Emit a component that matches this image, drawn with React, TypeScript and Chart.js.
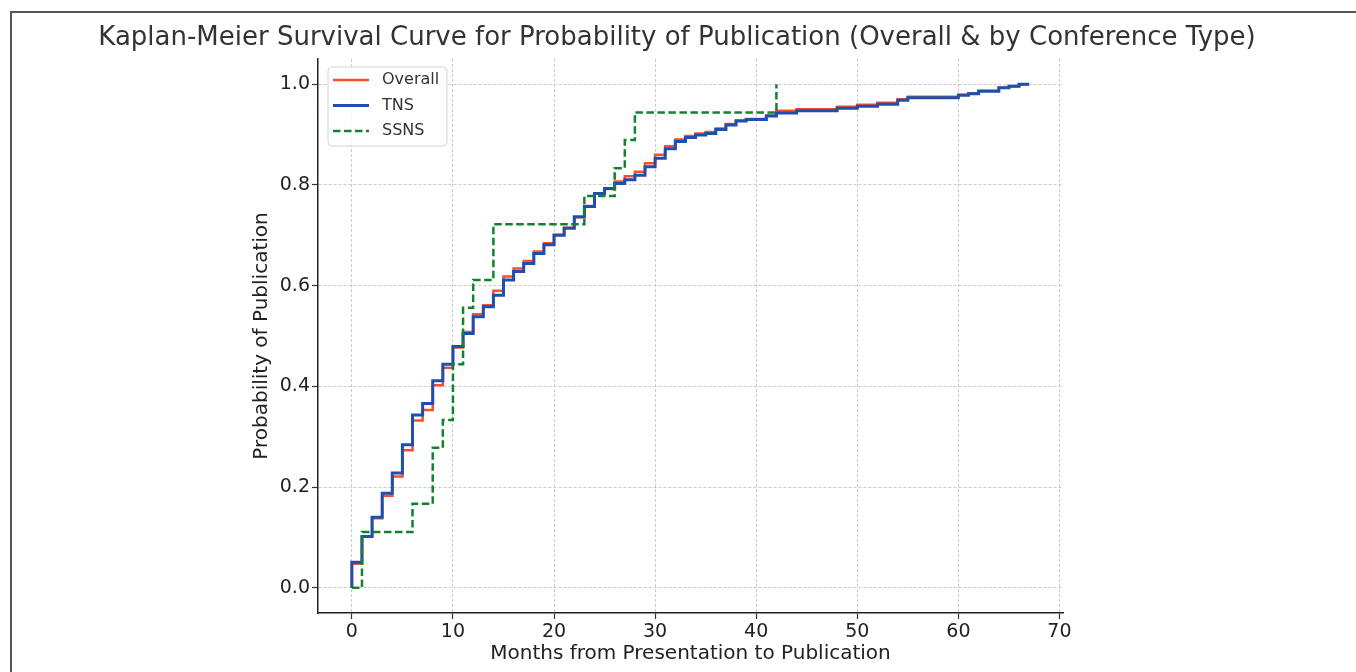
import React, { useEffect, useRef } from "react";
import { Chart, registerables } from "chart.js";

Chart.register(...registerables);

const chartTitle =
  "Kaplan-Meier Survival Curve for Probability of Publication (Overall & by Conference Type)";
const xAxisLabel = "Months from Presentation to Publication";
const yAxisLabel = "Probability of Publication";
const seriesLabels = ["Overall", "TNS", "SSNS"];

// Event times shared by Overall and TNS curves
const months = [
  0, 0, 1, 2, 3, 4, 5, 6, 7, 8, 9, 10, 11, 12, 13, 14, 15, 16, 17, 18, 19, 20,
  21, 22, 23, 24, 25, 26, 27, 28, 29, 30, 31, 32, 33, 34, 35, 36, 37, 38, 39,
  41, 42, 44, 48, 50, 52, 54, 55, 60, 61, 62, 64, 65, 66, 67,
];

const overallProb = [
  0, 0.048, 0.102, 0.138, 0.183, 0.221, 0.273, 0.332, 0.353, 0.402, 0.437,
  0.477, 0.508, 0.543, 0.561, 0.59, 0.618, 0.634, 0.649, 0.668, 0.684, 0.701,
  0.715, 0.736, 0.758, 0.783, 0.792, 0.807, 0.817, 0.826, 0.843, 0.86, 0.877,
  0.89, 0.897, 0.902, 0.905, 0.912, 0.921, 0.928, 0.931, 0.938, 0.947, 0.95,
  0.955, 0.959, 0.963, 0.97, 0.975, 0.979, 0.982, 0.987, 0.993, 0.996, 1.0, 1.0,
];

const tnsProb = [
  0, 0.051, 0.102, 0.14, 0.188, 0.228, 0.284, 0.343, 0.366, 0.411, 0.444,
  0.479, 0.505, 0.538, 0.558, 0.581, 0.611, 0.628, 0.644, 0.664, 0.681, 0.7,
  0.714, 0.737, 0.757, 0.783, 0.793, 0.803, 0.81, 0.819, 0.836, 0.853, 0.872,
  0.886, 0.894, 0.899, 0.902, 0.91, 0.919, 0.927, 0.93, 0.937, 0.943, 0.947,
  0.952, 0.956, 0.96, 0.968, 0.973, 0.978, 0.981, 0.986, 0.993, 0.996, 1.0, 1.0,
];

const ssnsMonths = [0, 1, 6, 8, 9, 10, 11, 12, 14, 23, 26, 27, 28, 42];
const ssnsProb = [
  0, 0.111, 0.167, 0.278, 0.333, 0.444, 0.556, 0.611, 0.722, 0.778, 0.833,
  0.889, 0.944, 1.0,
];

const xTicks = [0, 10, 20, 30, 40, 50, 60, 70];
const yTicks = [0, 0.2, 0.4, 0.6, 0.8, 1.0];

const FONT = "'DejaVu Sans', 'Liberation Sans', sans-serif";

const titlePlugin = {
  id: "wideTitle",
  afterDraw(chart: any) {
    const { ctx } = chart;
    ctx.save();
    ctx.fillStyle = "#333";
    ctx.font = `26px ${FONT}`;
    ctx.textAlign = "center";
    ctx.textBaseline = "middle";
    ctx.fillText(chartTitle, 677, 38);
    ctx.restore();
  },
};

const legendPlugin = {
  id: "boxLegend",
  afterDraw(chart: any) {
    const { ctx, chartArea } = chart;
    const x0 = chartArea.left + 10;
    const y0 = chartArea.top + 8;
    const w = 119;
    const h = 79;
    ctx.save();
    ctx.beginPath();
    const r = 4;
    ctx.moveTo(x0 + r, y0);
    ctx.lineTo(x0 + w - r, y0);
    ctx.quadraticCurveTo(x0 + w, y0, x0 + w, y0 + r);
    ctx.lineTo(x0 + w, y0 + h - r);
    ctx.quadraticCurveTo(x0 + w, y0 + h, x0 + w - r, y0 + h);
    ctx.lineTo(x0 + r, y0 + h);
    ctx.quadraticCurveTo(x0, y0 + h, x0, y0 + h - r);
    ctx.lineTo(x0, y0 + r);
    ctx.quadraticCurveTo(x0, y0, x0 + r, y0);
    ctx.closePath();
    ctx.fillStyle = "rgba(255,255,255,0.85)";
    ctx.fill();
    ctx.lineWidth = 1;
    ctx.strokeStyle = "#d4d4d4";
    ctx.stroke();

    const ds = chart.data.datasets;
    ds.forEach((d: any, i: number) => {
      const y = y0 + 13 + i * 25.5;
      ctx.beginPath();
      ctx.setLineDash(d.borderDash || []);
      ctx.strokeStyle = d.borderColor;
      ctx.lineWidth = d.borderWidth;
      ctx.moveTo(x0 + 5, y);
      ctx.lineTo(x0 + 41, y);
      ctx.stroke();
      ctx.setLineDash([]);
      ctx.fillStyle = "#333";
      ctx.font = `16px ${FONT}`;
      ctx.textBaseline = "middle";
      ctx.textAlign = "left";
      ctx.fillText(d.label, x0 + 54, y);
    });
    ctx.restore();
  },
};

export default function App() {
  const canvasRef = useRef<HTMLCanvasElement | null>(null);

  useEffect(() => {
    document.body.style.margin = "0";
    const canvas = canvasRef.current;
    if (!canvas) return;

    const overallData = months.map((m, i) => ({ x: m, y: overallProb[i] }));
    const tnsData = months.map((m, i) => ({ x: m, y: tnsProb[i] }));
    const ssnsData = ssnsMonths.map((m, i) => ({ x: m, y: ssnsProb[i] }));

    const chart = new Chart(canvas, {
      type: "line",
      data: {
        datasets: [
          {
            label: seriesLabels[0],
            data: overallData,
            borderColor: "#f5502e",
            borderWidth: 2.5,
            stepped: "before",
            pointRadius: 0,
            fill: false,
            order: 3,
          },
          {
            label: seriesLabels[1],
            data: tnsData,
            borderColor: "#1f4fad",
            borderWidth: 3,
            stepped: "before",
            pointRadius: 0,
            fill: false,
            order: 2,
          },
          {
            label: seriesLabels[2],
            data: ssnsData,
            borderColor: "#13822f",
            borderWidth: 2.5,
            borderDash: [7.5, 3.5],
            stepped: "before",
            pointRadius: 0,
            fill: false,
            order: 1,
          },
        ] as any,
      },
      plugins: [legendPlugin, titlePlugin],
      options: {
        animation: false,
        responsive: false,
        maintainAspectRatio: false,
        layout: { padding: { left: 246, right: 293, top: 59, bottom: 2 } },
        plugins: {
          legend: { display: false },
          tooltip: { enabled: false },
          title: { display: false },
        },
        scales: {
          x: {
            type: "linear",
            min: -3.35,
            max: 70.35,
            afterBuildTicks: (scale: any) => {
              scale.ticks = xTicks.map((v) => ({ value: v }));
            },
            afterFit: (scale: any) => {
              scale.height = 57;
            },
            ticks: {
              color: "#222",
              font: { family: FONT, size: 19 },
              padding: 2,
              maxRotation: 0,
              autoSkip: false,
              callback: (v: any) => String(v),
            },
            grid: {
              color: "#cbcbcb",
              lineWidth: 1,
              drawTicks: true,
              tickLength: 6,
              tickColor: "#333",
              tickWidth: 1.2,
            },
            border: { display: true, color: "#222", width: 1.5, dash: [3, 2] },
            title: {
              display: true,
              text: xAxisLabel,
              color: "#222",
              font: { family: FONT, size: 20 },
              padding: { top: 4, bottom: 4 },
            },
          },
          y: {
            type: "linear",
            min: -0.05,
            max: 1.05,
            afterBuildTicks: (scale: any) => {
              scale.ticks = yTicks.map((v) => ({ value: v }));
            },
            afterFit: (scale: any) => {
              scale.width = 72;
            },
            ticks: {
              color: "#222",
              font: { family: FONT, size: 19 },
              padding: 2,
              autoSkip: false,
              callback: (v: any) => Number(v).toFixed(1),
            },
            grid: {
              color: "#cbcbcb",
              lineWidth: 1,
              drawTicks: true,
              tickLength: 6,
              tickColor: "#333",
              tickWidth: 1.2,
            },
            border: { display: true, color: "#222", width: 1.5, dash: [3, 2] },
            title: {
              display: true,
              text: yAxisLabel,
              color: "#222",
              font: { family: FONT, size: 20 },
              padding: { top: 4, bottom: 4 },
            },
          },
        },
      } as any,
    });

    return () => {
      chart.destroy();
    };
  }, []);

  return (
    <div style={{ position: "relative", width: 1356, height: 672, background: "#fff" }}>
      <canvas ref={canvasRef} width={1356} height={672} style={{ display: "block" }} />
      <div
        style={{
          position: "absolute",
          left: 10,
          top: 11,
          width: 1346,
          height: 661,
          borderLeft: "2px solid #555",
          borderTop: "2px solid #555",
          boxSizing: "border-box",
          pointerEvents: "none",
        }}
      />
    </div>
  );
}
